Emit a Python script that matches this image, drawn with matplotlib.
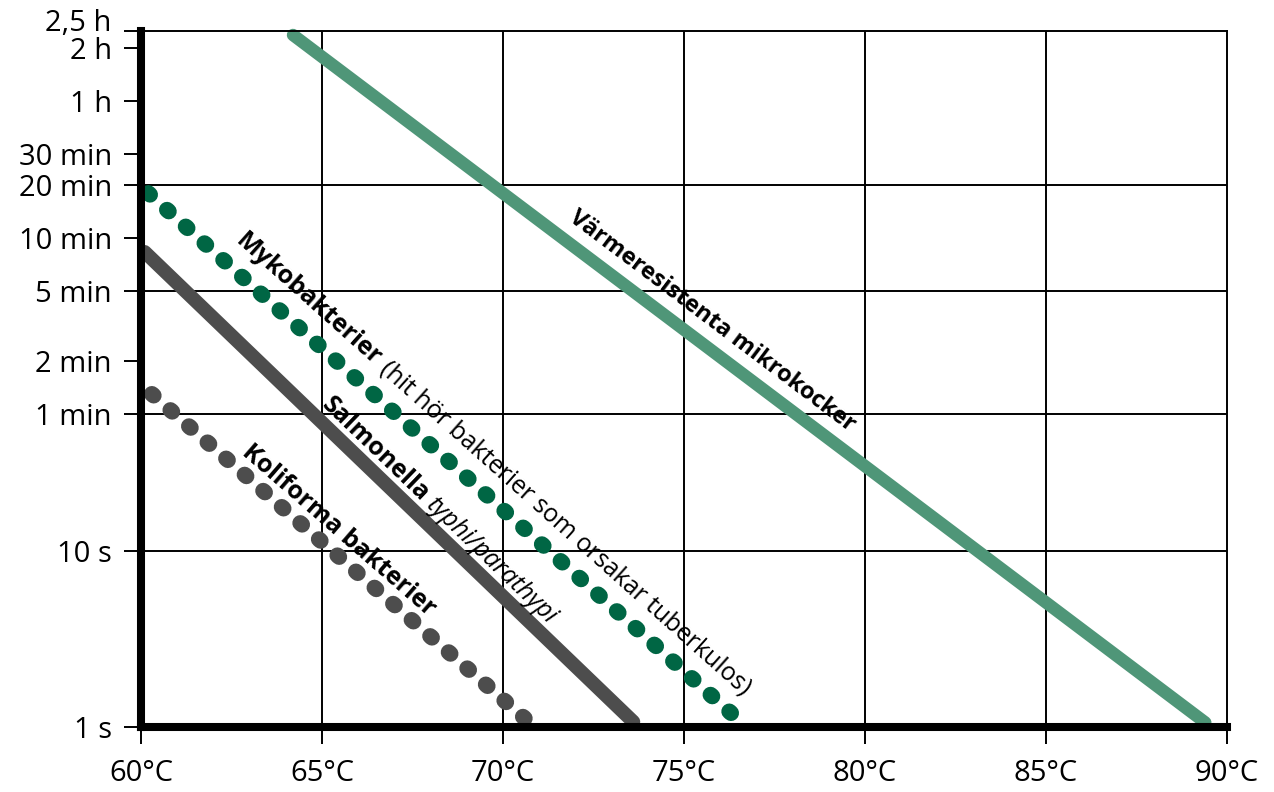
import numpy as np
import matplotlib.pyplot as plt
from matplotlib.ticker import FixedLocator, NullLocator
from matplotlib.transforms import ScaledTranslation

plt.rcParams['font.family'] = ['Open Sans', 'DejaVu Sans']

# axis ticks
temp_ticks = [60, 65, 70, 75, 80, 85, 90]
temp_labels = ['60°C', '65°C', '70°C', '75°C', '80°C', '85°C', '90°C']
time_ticks = [1, 10, 60, 120, 300, 600, 1200, 1800, 3600, 7200, 9000]
time_labels = ['1 s', '10 s', '1 min', '2 min', '5 min', '10 min', '20 min',
               '30 min', '1 h', '2 h', '2,5 h']
grid_times = [10, 60, 300, 1200]
grid_temps = [65, 70, 75, 80, 85]

# lines: temperature (°C) and time (s) at start / end
varme_temp = [64.2, 89.4]
varme_time = [8540, 1.06]
myko_temp = [60.2, 76.3]
myko_time = [1080, 1.2]
salm_temp = [60.1, 73.6]
salm_time = [500, 1.07]
koli_temp = [60.3, 70.6]
koli_time = [78, 1.12]

light_green = '#4f9678'
dark_green = '#006644'
gray = '#4d4d4d'

fig = plt.figure(figsize=(12.74, 7.92), dpi=100)
ax = fig.add_axes([141 / 1274, 65 / 792, 1086 / 1274, 696 / 792])

ax.set_yscale('log')
ax.set_xlim(60, 90)
ax.set_ylim(1, 9000)

for v in grid_times:
    ax.axhline(v, color='black', lw=1.4, zorder=1)
for v in grid_temps:
    ax.axvline(v, color='black', lw=1.4, zorder=1)


# dotted pattern that puts a dot on both ends of the line
def dots(xs, ys, lw, period_px=25.0, on=0.15):
    p0 = ax.transData.transform((xs[0], ys[0]))
    p1 = ax.transData.transform((xs[1], ys[1]))
    lw_px = lw * fig.dpi / 72
    length = np.hypot(*(p1 - p0)) / lw_px
    n = max(1, round((length - on) / (period_px / lw_px)))
    period = (length - on) / n
    return (0, (on, period - on))


ax.plot(varme_temp, varme_time, color=light_green, lw=9, solid_capstyle='round',
        clip_on=False, zorder=3)
ax.plot(salm_temp, salm_time, color=gray, lw=10, solid_capstyle='round',
        clip_on=False, zorder=3)
ax.plot(myko_temp, myko_time, color=dark_green, lw=11.5,
        ls=dots(myko_temp, myko_time, 11.5, 25.0),
        dash_capstyle='round', clip_on=False, zorder=3)
ax.plot(koli_temp, koli_time, color=gray, lw=11.5,
        ls=dots(koli_temp, koli_time, 11.5, 24.5),
        dash_capstyle='round', clip_on=False, zorder=3)

ax.xaxis.set_major_locator(FixedLocator(temp_ticks))
ax.set_xticklabels(temp_labels)
ax.yaxis.set_major_locator(FixedLocator(time_ticks))
ax.yaxis.set_minor_locator(NullLocator())
ax.set_yticklabels(time_labels)
ax.tick_params(axis='both', direction='out', length=12, width=1.4,
               labelsize=21, color='black')
ax.tick_params(axis='y', pad=9)
ax.tick_params(axis='x', pad=11)

# lift the top label a bit, as in the original
top = ax.get_yticklabels()[-1]
top.set_transform(top.get_transform() + ScaledTranslation(0, 8 / 72, fig.dpi_scale_trans))

ax.spines['left'].set_linewidth(5.8)
ax.spines['bottom'].set_linewidth(5.8)
ax.spines['top'].set_linewidth(1.4)
ax.spines['right'].set_linewidth(1.4)
for s in ax.spines.values():
    s.set_zorder(4)

renderer = fig.canvas.get_renderer()


def text_width(s, **kw):
    t = ax.text(0, 0, s, **kw)
    w = t.get_window_extent(renderer).width
    t.remove()
    return w


# put a label along a line: frac of the way from the start, perp pixels above it
def label_line(xs, ys, frac, perp, parts, size=18):
    p0 = ax.transData.transform((xs[0], ys[0]))
    p1 = ax.transData.transform((xs[1], ys[1]))
    d = (p1 - p0) / np.hypot(*(p1 - p0))
    n = np.array([-d[1], d[0]])
    ang = np.degrees(np.arctan2(d[1], d[0]))
    pos = p0 + frac * (p1 - p0) + perp * n
    space = text_width('a a', fontsize=size) - text_width('aa', fontsize=size)
    for s, kw in parts:
        xy = ax.transData.inverted().transform(pos)
        ax.text(xy[0], xy[1], s, fontsize=size, rotation=ang, rotation_mode='anchor',
                ha='left', va='baseline', zorder=5, **kw)
        pos = pos + (text_width(s, fontsize=size, **kw) + space) * d


label_line(varme_temp, varme_time, 0.29, 17.5,
           [('Värmeresistenta mikrokocker', {'fontweight': 'bold'})], size=17)
label_line(myko_temp, myko_time, 0.125, 21,
           [('Mykobakterier', {'fontweight': 'bold'}),
            ('(hit hör bakterier som orsakar tuberkulos)', {})])
label_line(salm_temp, salm_time, 0.344, 11,
           [('Salmonella', {'fontweight': 'bold'}),
            ('typhi/parathypi', {'fontstyle': 'italic'})])
label_line(koli_temp, koli_time, 0.215, 13,
           [('Koliforma bakterier', {'fontweight': 'bold'})])

fig.savefig('out.png', dpi=100)
